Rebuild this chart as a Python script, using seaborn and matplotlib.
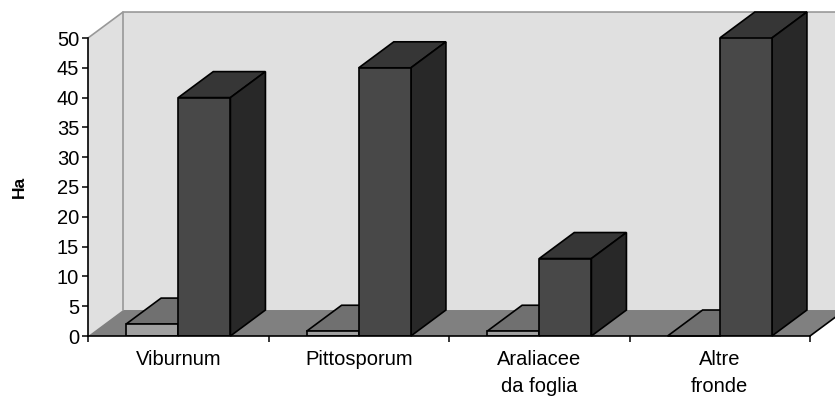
import matplotlib
matplotlib.use("Agg")
import matplotlib.pyplot as plt
import seaborn as sns
import pandas as pd
from matplotlib.patches import Polygon

# dati (ettari)
categories = ["Viburnum", "Pittosporum", "Araliacee\nda foglia", "Altre\nfronde"]
serie_chiara = [2, 0.8, 0.8, 0]
serie_scura = [40, 45, 13, 50]
serie_nomi = ["chiara", "scura"]
y_ticks = list(range(0, 55, 5))

df = pd.DataFrame({
    "categoria": categories * 2,
    "serie": [serie_nomi[0]] * len(categories) + [serie_nomi[1]] * len(categories),
    "ha": serie_chiara + serie_scura,
})

sns.set_theme(style="ticks")
plt.rcParams['font.family'] = ['Liberation Sans', 'DejaVu Sans']

col_fronte = {"chiara": "#a0a0a0", "scura": "#484848"}
col_sopra = {"chiara": "#707070", "scura": "#363636"}
col_lato = {"chiara": "#5c5c5c", "scura": "#282828"}

fig = plt.figure(figsize=(8.35, 4.01), dpi=100)
ax = fig.add_axes([88 / 835, 65 / 401, 722 / 835, 298 / 401])

sns.barplot(data=df, x="categoria", y="ha", hue="serie", palette=col_fronte,
            width=0.578, saturation=1, errorbar=None, legend=False,
            edgecolor="black", linewidth=1.2, ax=ax)

ax.set_xlim(-0.5, 3.5)
ax.set_ylim(0, 50)

# profondita' della prospettiva (in unita' dati)
dx = 0.194
dy = 4.36
x0, x1 = -0.5, 3.5

# pareti e pavimento
ax.add_patch(Polygon([(x0 + dx, dy), (x0 + dx, 50 + dy), (x1 + dx, 50 + dy), (x1 + dx, dy)],
                     facecolor="#e0e0e0", edgecolor="none", zorder=0.5, clip_on=False))
ax.add_patch(Polygon([(x0, 0), (x0, 50), (x0 + dx, 50 + dy), (x0 + dx, dy)],
                     facecolor="#e0e0e0", edgecolor="none", zorder=0.5, clip_on=False))
ax.add_patch(Polygon([(x0, 0), (x1, 0), (x1 + dx, dy), (x0 + dx, dy)],
                     facecolor="#808080", edgecolor="none", zorder=0.8, clip_on=False))
ax.plot([x0, x0 + dx, x1 + dx], [50, 50 + dy, 50 + dy], color="#999999", lw=1.2,
        zorder=0.9, clip_on=False)
ax.plot([x0 + dx, x0 + dx], [dy, 50 + dy], color="#999999", lw=1.2, zorder=0.9, clip_on=False)
ax.plot([x1, x1 + dx], [0, dy], color="black", lw=1.2, zorder=0.9, clip_on=False)

# facce superiori e laterali delle barre
n = len(categories)
for i, p in enumerate(ax.patches[:2 * n]):
    s = serie_nomi[i // n]
    base_z = 3 if s == "chiara" else 5
    bx, bw, bh = p.get_x(), p.get_width(), p.get_height()
    p.set_zorder(base_z + 1)
    ax.add_patch(Polygon([(bx, bh), (bx + bw, bh), (bx + bw + dx, bh + dy), (bx + dx, bh + dy)],
                         facecolor=col_sopra[s], edgecolor="black", lw=1.2,
                         zorder=base_z, clip_on=False, joinstyle="miter"))
    ax.add_patch(Polygon([(bx + bw, 0), (bx + bw, bh), (bx + bw + dx, bh + dy), (bx + bw + dx, dy)],
                         facecolor=col_lato[s], edgecolor="black", lw=1.2,
                         zorder=base_z, clip_on=False, joinstyle="miter"))

# assi
sns.despine(ax=ax)
ax.spines["left"].set_color("black")
ax.spines["bottom"].set_color("black")
ax.spines["left"].set_linewidth(1.2)
ax.spines["bottom"].set_linewidth(1.2)
ax.spines["left"].set_zorder(7)
ax.spines["bottom"].set_zorder(7)

ax.set_yticks(y_ticks)
ax.set_yticklabels([str(v) for v in y_ticks])
ax.tick_params(axis="y", length=4.3, width=1.1, color="black", pad=2, labelsize=14.5,
               labelcolor="black")

ax.set_xticks([x0 + k for k in range(n + 1)])
ax.set_xticklabels([])
ax.set_xticks(range(n), minor=True)
ax.set_xticklabels(categories, minor=True, linespacing=1.55)
ax.tick_params(axis="x", which="major", length=4.3, width=1.1, color="black")
ax.tick_params(axis="x", which="minor", length=0, pad=10, labelsize=14.5, labelcolor="black")

ax.set_xlabel("")
ax.set_ylabel("Ha", fontsize=12.5, fontweight="bold", color="black")
ax.yaxis.set_label_coords(-0.084, 0.5)
ax.patch.set_visible(False)

fig.savefig("out.png", dpi=100)
